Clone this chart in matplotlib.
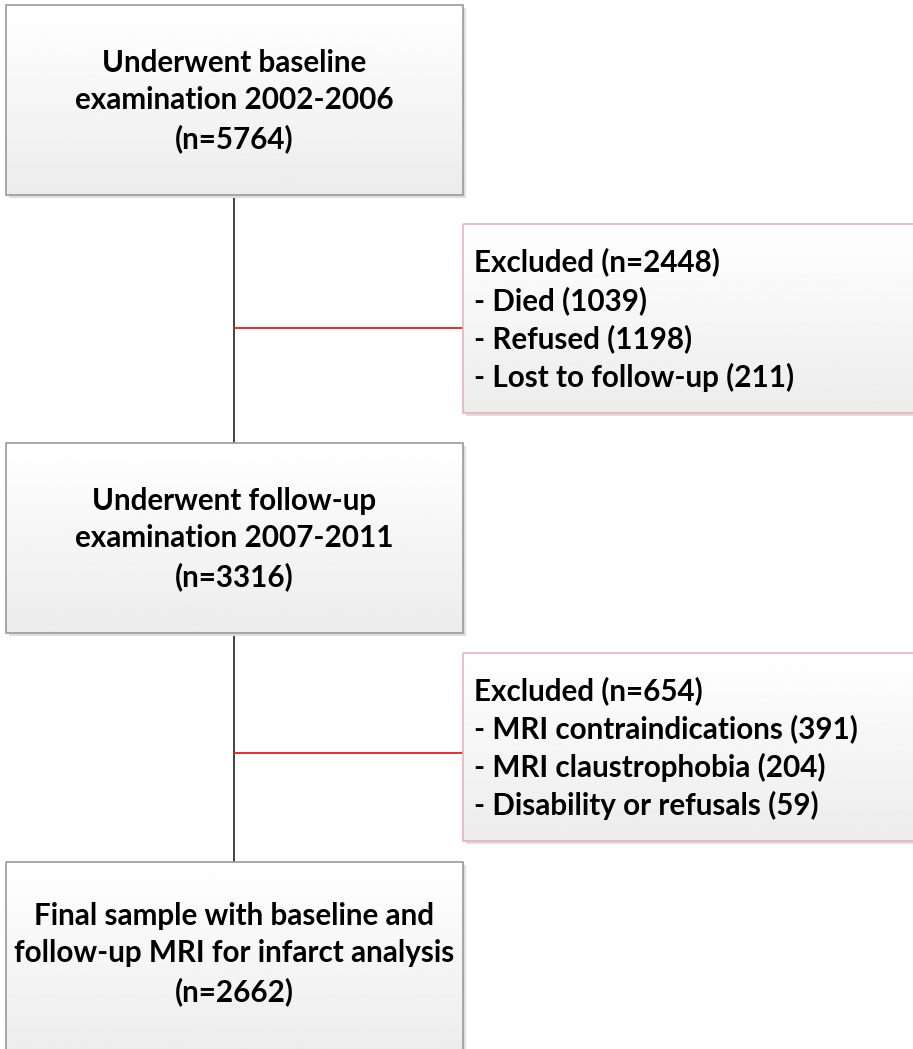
import matplotlib
matplotlib.use("Agg")
import matplotlib.pyplot as plt
import numpy as np
from matplotlib.patches import Rectangle

# ---- content ----
main_labels = [
    "Underwent baseline\nexamination 2002-2006\n(n=5764)",
    "Underwent follow-up\nexamination 2007-2011\n(n=3316)",
    "Final sample with baseline and\nfollow-up MRI for infarct analysis\n(n=2662)",
]
excl_titles = ["Excluded (n=2448)", "Excluded (n=654)"]
excl_items = [
    ["- Died (1039)", "- Refused (1198)", "- Lost to follow-up (211)"],
    ["- MRI contraindications (391)", "- MRI claustrophobia (204)", "- Disability or refusals (59)"],
]

# ---- layout (pixels) ----
W, H = 913, 1049
main_boxes = [(6, 5, 463, 195), (6, 443, 463, 633), (6, 862, 463, 1060)]  # x0,y0,x1,y1
main_text_y = [101, 539, 954]
excl_boxes = [(463, 224, 925, 413), (463, 653, 925, 841)]
line_x = 234
red_y = [328, 753]

FONT = ["Lato", "DejaVu Sans"]
FS = 21.3
LS = 1.39

fig = plt.figure(figsize=(W / 100, H / 100), dpi=100)
ax = fig.add_axes([0, 0, 1, 1])
ax.set_xlim(0, W)
ax.set_ylim(H, 0)
ax.axis("off")

grad = np.linspace(1.0, 0.925, 256).reshape(-1, 1)


def draw_box(x0, y0, x1, y1, edge):
    # shadow
    ax.add_patch(Rectangle((x0 + 3, y0 + 3), x1 - x0, y1 - y0, facecolor="#dedede",
                           edgecolor="none", zorder=1))
    rect = Rectangle((x0, y0), x1 - x0, y1 - y0, facecolor="none", edgecolor=edge,
                     linewidth=1.2, zorder=3)
    ax.add_patch(rect)
    im = ax.imshow(grad, cmap="gray", vmin=0, vmax=1, extent=(x0, x1, y1, y0),
                   aspect="auto", zorder=2, interpolation="bilinear")
    im.set_clip_path(Rectangle((x0, y0), x1 - x0, y1 - y0, transform=ax.transData))


# connector lines
ax.plot([line_x, line_x], [195, 443], color="#333333", lw=1.3, zorder=0.5)
ax.plot([line_x, line_x], [633, 862], color="#333333", lw=1.3, zorder=0.5)
for yy in red_y:
    ax.plot([line_x, 463], [yy, yy], color="#e02020", lw=1.3, zorder=0.6)

for (x0, y0, x1, y1), lab, yc in zip(main_boxes, main_labels, main_text_y):
    draw_box(x0, y0, x1, y1, "#9a9a9a")
    ax.text((x0 + x1) / 2, yc, lab, ha="center", va="center", fontsize=FS,
            fontweight="bold", family=FONT, linespacing=LS, zorder=4)

for (x0, y0, x1, y1), t, items in zip(excl_boxes, excl_titles, excl_items):
    draw_box(x0, y0, x1, y1, "#e8b4b8")
    txt = "\n".join([t] + items)
    ax.text(474, (y0 + y1) / 2 + 1, txt, ha="left", va="center", fontsize=FS,
            fontweight="bold", family=FONT, linespacing=LS, zorder=4)

fig.savefig("out.png", dpi=100, facecolor="white")
